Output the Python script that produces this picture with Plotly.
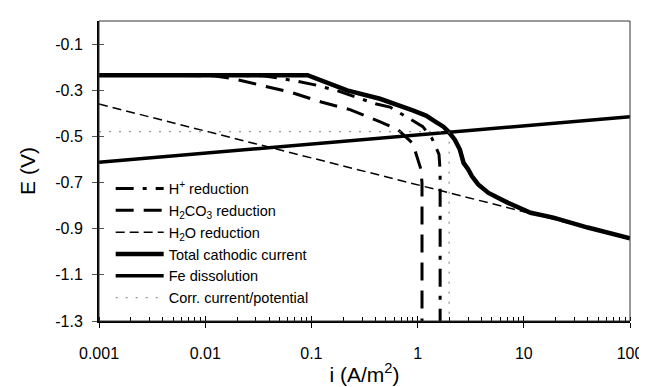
import plotly.graph_objects as go

# ---- data ----
hplus_i = [0.001, 0.035, 0.066, 0.111, 0.18, 0.297, 0.41, 0.55, 0.84, 1.12, 1.37, 1.5, 1.59, 1.63, 1.63]
hplus_E = [-0.235, -0.237, -0.257, -0.278, -0.304, -0.338, -0.36, -0.373, -0.424, -0.458, -0.51, -0.55, -0.578, -0.65, -1.3]

h2co3_i = [0.001, 0.012, 0.0174, 0.034, 0.063, 0.124, 0.234, 0.445, 0.65, 0.9, 0.98, 1.07, 1.1, 1.1]
h2co3_E = [-0.235, -0.237, -0.248, -0.278, -0.308, -0.351, -0.385, -0.437, -0.47, -0.53, -0.58, -0.64, -0.70, -1.3]

h2o_i = [0.001, 0.01, 0.1, 1, 10, 100]
h2o_E = [-0.36, -0.477, -0.593, -0.71, -0.826, -0.943]

total_i = [0.001, 0.092, 0.217, 0.442, 0.9, 1.2, 1.48, 1.75, 1.96, 2.24, 2.5, 2.71, 3.01, 3.24, 3.72, 4.65, 7.1, 11.6, 19, 40, 100]
total_E = [-0.235, -0.235, -0.301, -0.337, -0.387, -0.41, -0.437, -0.458, -0.48, -0.514, -0.557, -0.615, -0.644, -0.672, -0.708, -0.745, -0.788, -0.831, -0.852, -0.895, -0.942]

fe_i = [0.001, 0.01, 0.1, 1, 10, 100]
fe_E = [-0.612, -0.573, -0.533, -0.494, -0.454, -0.415]

corr_i = [0.001, 1.98, 1.98]
corr_E = [-0.48, -0.48, -1.3]

x_tickvals = [0.001, 0.01, 0.1, 1, 10, 100]
x_ticktext = ["0.001", "0.01", "0.1", "1", "10", "100"]
y_tickvals = [-0.1, -0.3, -0.5, -0.7, -0.9, -1.1, -1.3]
y_ticktext = ["-0.1", "-0.3", "-0.5", "-0.7", "-0.9", "-1.1", "-1.3"]

FONT = "Liberation Sans, Arial, sans-serif"

fig = go.Figure()
fig.add_trace(go.Scatter(x=hplus_i, y=hplus_E, mode="lines", name="H<sup>+</sup> reduction",
                         line=dict(color="black", width=3, dash="18px,9px,4px,9px")))
fig.add_trace(go.Scatter(x=h2co3_i, y=h2co3_E, mode="lines", name="H<sub>2</sub>CO<sub>3</sub> reduction",
                         line=dict(color="black", width=3, dash="18px,10px")))
fig.add_trace(go.Scatter(x=h2o_i, y=h2o_E, mode="lines", name="H<sub>2</sub>O reduction",
                         line=dict(color="black", width=1.5, dash="9px,5px")))
fig.add_trace(go.Scatter(x=total_i, y=total_E, mode="lines", name="Total cathodic current",
                         line=dict(color="black", width=4.5)))
fig.add_trace(go.Scatter(x=fe_i, y=fe_E, mode="lines", name="Fe dissolution",
                         line=dict(color="black", width=3.5)))
fig.add_trace(go.Scatter(x=corr_i, y=corr_E, mode="lines", name="Corr. current/potential",
                         line=dict(color="#777777", width=1, dash="2px,8px")))
# empty trace for overlay axes (inside half of crossing ticks)
fig.add_trace(go.Scatter(x=[], y=[], xaxis="x2", yaxis="y2", showlegend=False, hoverinfo="skip"))

fig.update_layout(
    width=647, height=387,
    margin=dict(l=91, r=16, t=13, b=69),
    paper_bgcolor="white", plot_bgcolor="white",
    font=dict(family=FONT, color="black", size=16),
    showlegend=True,
    legend=dict(x=0.022, y=0.495, xanchor="left", yanchor="top",
                bgcolor="rgba(0,0,0,0)", borderwidth=0,
                font=dict(family=FONT, size=14.5, color="black"),
                itemwidth=48, tracegroupgap=0),
    xaxis=dict(type="log", range=[-3, 2], tickvals=x_tickvals, ticktext=x_ticktext,
               ticks="outside", ticklen=5, tickcolor="black", tickwidth=1,
               minor=dict(ticks="inside", ticklen=4, dtick="D1", tickcolor="black", showgrid=False),
               showline=True, linecolor="black", linewidth=2, showgrid=False, zeroline=False,
               ticklabelstandoff=12,
               title=dict(text="i (A/m<sup>2</sup>)", font=dict(size=21), standoff=6)),
    yaxis=dict(range=[-1.3, 0], tickvals=y_tickvals, ticktext=y_ticktext,
               ticks="outside", ticklen=5, tickcolor="#555555", tickwidth=1,
               showline=True, linecolor="black", linewidth=2, showgrid=False, zeroline=False,
               ticklabelstandoff=6,
               title=dict(text="E (V)", font=dict(size=21), standoff=14)),
    xaxis2=dict(type="log", range=[-3, 2], overlaying="x", side="bottom", anchor="y2",
                tickvals=x_tickvals, ticks="inside", ticklen=5, tickcolor="black",
                showticklabels=False, showline=False, showgrid=False, zeroline=False),
    yaxis2=dict(range=[-1.3, 0], overlaying="y", side="left", anchor="x2",
                tickvals=y_tickvals, ticks="inside", ticklen=5, tickcolor="#555555",
                showticklabels=False, showline=False, showgrid=False, zeroline=False),
    shapes=[dict(type="rect", xref="paper", yref="paper", x0=0, x1=1, y0=0, y1=1,
                 line=dict(color="#333333", width=1), fillcolor="rgba(0,0,0,0)", layer="above")],
)

fig.write_html("out.html")
